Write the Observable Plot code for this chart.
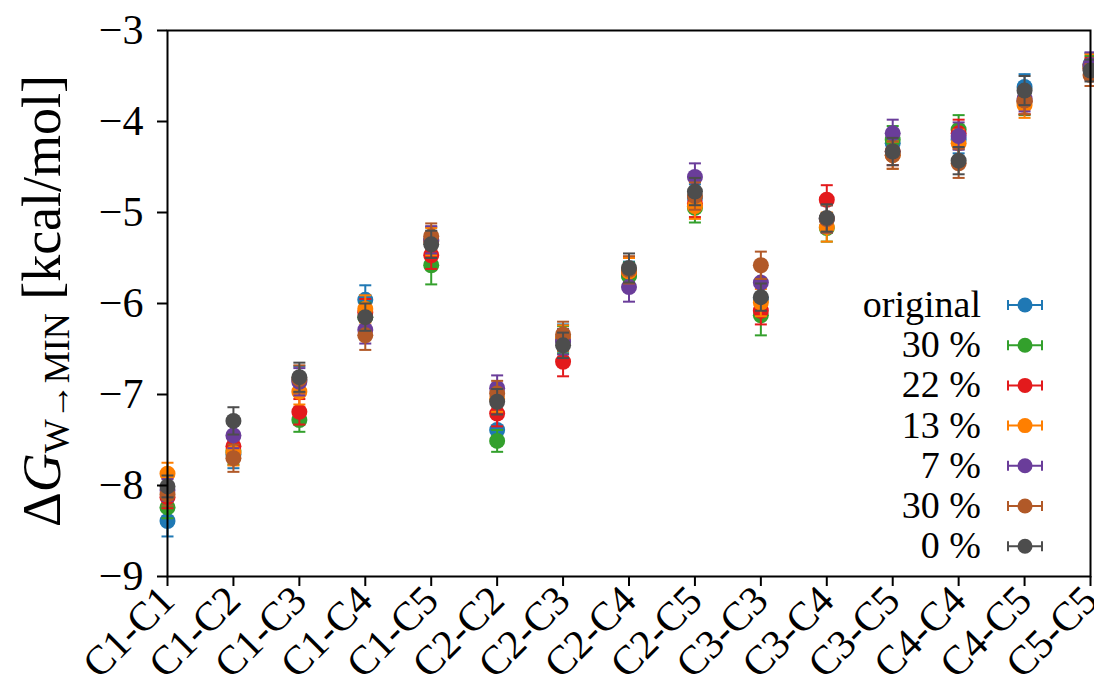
<!DOCTYPE html>
<html><head><meta charset="utf-8">
<script src="https://cdn.jsdelivr.net/npm/d3@7"></script>
<script src="https://cdn.jsdelivr.net/npm/@observablehq/plot@0.6"></script>
<style>
html,body{margin:0;padding:0;background:#fff}
#chart{width:1094px;height:687px;overflow:hidden}
</style>
</head><body><div id="chart"></div>
<script>
// ---- data ----
const categories = ["C1-C1","C1-C2","C1-C3","C1-C4","C1-C5","C2-C2","C2-C3","C2-C4","C2-C5","C3-C3","C3-C4","C3-C5","C4-C4","C4-C5","C5-C5"];
const seriesNames = ["original","30 %","22 %","13 %","7 %","30 %","0 %"];
const seriesColors = ["#1f78b4","#33a02c","#e31a1c","#ff7f00","#6a3d9a","#b15928","#4d4d4d"];
const yTicks = [-9,-8,-7,-6,-5,-4,-3];

const valOriginal = [-8.39,-7.66,-6.84,-5.96,-5.31,-7.39,-6.38,-5.69,-4.84,-5.95,-5.07,-4.24,-4.20,-3.62,-3.37];
const errOriginal = [0.17,0.15,0.15,0.16,0.15,0.14,0.15,0.15,0.15,0.17,0.15,0.14,0.15,0.14,0.12];
const val30a = [-8.24,-7.62,-7.28,-6.15,-5.58,-7.51,-6.40,-5.70,-4.95,-6.13,-5.17,-4.20,-4.09,-3.78,-3.40];
const err30a = [0.12,0.15,0.13,0.16,0.21,0.12,0.15,0.15,0.16,0.22,0.15,0.15,0.16,0.15,0.12];
const val22 = [-8.13,-7.57,-7.19,-6.10,-5.47,-7.21,-6.64,-5.65,-4.90,-6.08,-4.86,-4.33,-4.13,-3.78,-3.42];
const err22 = [0.12,0.14,0.14,0.15,0.15,0.14,0.16,0.15,0.15,0.15,0.16,0.15,0.15,0.14,0.12];
const val13 = [-7.87,-7.64,-6.97,-6.06,-5.32,-7.05,-6.38,-5.65,-4.93,-5.99,-5.16,-4.37,-4.24,-3.82,-3.38];
const err13 = [0.12,0.14,0.14,0.15,0.15,0.14,0.14,0.15,0.14,0.15,0.16,0.15,0.15,0.14,0.12];
const val7 = [-8.05,-7.45,-6.86,-6.29,-5.30,-6.93,-6.42,-5.82,-4.61,-5.77,-5.07,-4.13,-4.16,-3.75,-3.38];
const err7 = [0.12,0.14,0.15,0.15,0.15,0.14,0.14,0.16,0.15,0.15,0.15,0.15,0.15,0.14,0.14];
const val30b = [-8.10,-7.70,-6.83,-6.35,-5.26,-6.99,-6.34,-5.63,-4.82,-5.58,-5.07,-4.37,-4.46,-3.77,-3.49];
const err30b = [0.12,0.15,0.15,0.16,0.14,0.14,0.14,0.15,0.15,0.15,0.15,0.15,0.16,0.15,0.12];
const val0 = [-8.01,-7.29,-6.81,-6.15,-5.35,-7.08,-6.46,-5.61,-4.77,-5.93,-5.06,-4.33,-4.43,-3.66,-3.44];
const err0 = [0.12,0.15,0.16,0.15,0.15,0.14,0.14,0.16,0.15,0.15,0.15,0.15,0.15,0.16,0.12];

const seriesValues = [valOriginal,val30a,val22,val13,val7,val30b,val0];
const seriesErrors = [errOriginal,err30a,err22,err13,err7,err30b,err0];

// ---- build table ----
const rows = [];
seriesValues.forEach((vals, s) => vals.forEach((v, i) => rows.push({s, cat: categories[i], v, e: seriesErrors[s][i]})));

const FONT = "'Liberation Serif', 'Times New Roman', serif";

// horizontal cap symbol for error bars
const capSymbol = {
  draw(context, size) {
    const h = Math.sqrt(size / Math.PI);
    context.moveTo(-h, 0);
    context.lineTo(h, 0);
  }
};

const marks = [];
seriesNames.forEach((name, s) => {
  const d = rows.filter(r => r.s === s);
  const c = seriesColors[s];
  marks.push(Plot.ruleX(d, {x: "cat", y1: r => r.v - r.e, y2: r => r.v + r.e, stroke: c, strokeWidth: 2}));
  marks.push(Plot.dot(d, {x: "cat", y: r => r.v - r.e, symbol: capSymbol, r: 6, stroke: c, fill: "none", strokeWidth: 2}));
  marks.push(Plot.dot(d, {x: "cat", y: r => r.v + r.e, symbol: capSymbol, r: 6, stroke: c, fill: "none", strokeWidth: 2}));
  marks.push(Plot.dot(d, {x: "cat", y: "v", r: 8, fill: c, stroke: "none"}));
});

const minus = d => String(d).replace("-", "\u2212");

const svg = Plot.plot({
  width: 1094, height: 687,
  marginLeft: 167, marginRight: 4, marginTop: 30, marginBottom: 111,
  style: {fontFamily: FONT, fontSize: "40px", background: "white", color: "black", overflow: "visible"},
  x: {type: "point", domain: categories, padding: 0, round: false, label: null},
  y: {domain: [-9, -3], label: null},
  marks: [
    ...marks,
    Plot.frame({stroke: "black", strokeWidth: 2}),
    Plot.axisX({tickRotate: -45, tickSize: 10, tickPadding: 7, strokeWidth: 2, fontSize: 41, label: null}),
    Plot.axisY({ticks: yTicks, tickSize: 10, tickPadding: 14, tickFormat: minus, strokeWidth: 2, fontSize: 42, label: null})
  ]
});

const root = d3.select(svg);
root.style("font-family", FONT);
root.selectAll("text").style("font-family", FONT);

// ---- y-axis title ----
const yt = root.append("text")
  .attr("transform", "translate(60,301) rotate(-90)")
  .attr("text-anchor", "middle")
  .style("font-family", FONT)
  .attr("font-size", 54)
  .attr("fill", "black");
yt.append("tspan").text("\u0394");
yt.append("tspan").attr("font-style", "italic").text("G");
yt.append("tspan").attr("font-size", 36).attr("dy", 9).text("W\u2192MIN");
yt.append("tspan").attr("dy", -9).text("\u00a0[kcal/mol]");

// ---- legend ----
const lg = root.append("g").style("font-family", FONT).attr("font-size", 38);
seriesNames.forEach((name, s) => {
  const cy = 305 + s * 40.2;
  const c = seriesColors[s];
  lg.append("text").attr("x", 981).attr("y", cy + 12).attr("text-anchor", "end").attr("fill", "black").text(name);
  lg.append("line").attr("x1", 1008).attr("x2", 1042).attr("y1", cy).attr("y2", cy).attr("stroke", c).attr("stroke-width", 2);
  lg.append("line").attr("x1", 1008).attr("x2", 1008).attr("y1", cy - 5).attr("y2", cy + 5).attr("stroke", c).attr("stroke-width", 2);
  lg.append("line").attr("x1", 1042).attr("x2", 1042).attr("y1", cy - 5).attr("y2", cy + 5).attr("stroke", c).attr("stroke-width", 2);
  lg.append("circle").attr("cx", 1025).attr("cy", cy).attr("r", 7.5).attr("fill", c);
});

document.getElementById("chart").appendChild(svg);
</script>
</body></html>
